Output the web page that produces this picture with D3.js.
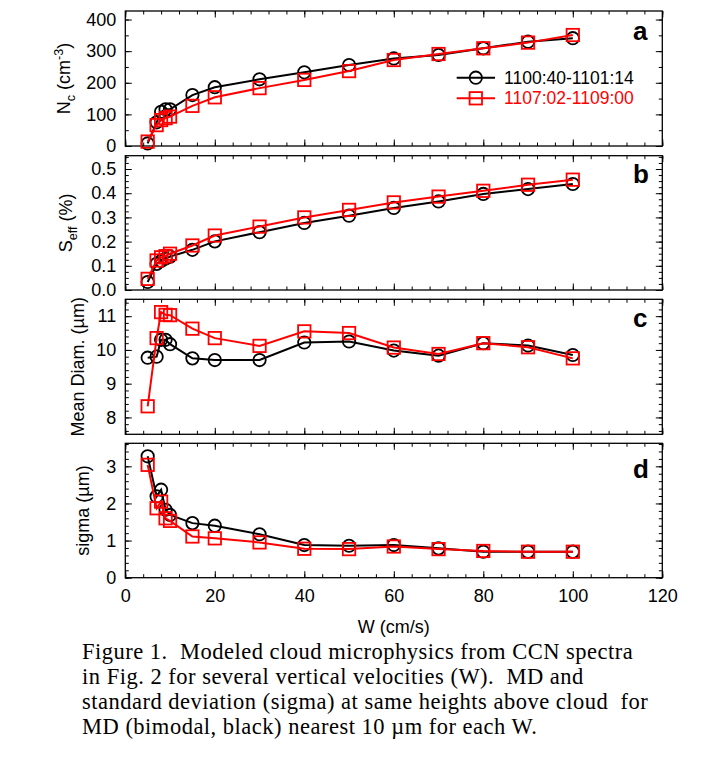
<!DOCTYPE html>
<html>
<head>
<meta charset="utf-8">
<script src="https://cdn.jsdelivr.net/npm/d3@7/dist/d3.min.js"></script>
<style>
  body { margin: 0; background: #fff; }
  svg { display: block; }
</style>
</head>
<body>
<div id="chart"></div>
<script>
// vertical velocity W (cm/s), shared by every panel
const wValues = [5, 7, 8, 9, 10, 15, 20, 30, 40, 50, 60, 70, 80, 90, 100];

// black = 1100:40-1101:14, red = 1107:02-1109:00
const ncBlack = [8, 75, 108, 116, 116, 161, 186, 211, 233, 256, 277, 288, 309, 330, 341];
const ncRed = [14, 66, 82, 88, 93, 127, 154, 183, 209, 237, 272, 291, 309, 327, 351];

const seffBlack = [0.033, 0.108, 0.12, 0.13, 0.138, 0.166, 0.201, 0.239, 0.277, 0.307, 0.339, 0.366, 0.397, 0.417, 0.438];
const seffRed = [0.046, 0.122, 0.135, 0.14, 0.15, 0.184, 0.225, 0.262, 0.30, 0.331, 0.362, 0.386, 0.41, 0.435, 0.456];

const mdBlack = [9.77, 9.8, 10.3, 10.3, 10.17, 9.75, 9.70, 9.70, 10.22, 10.25, 9.98, 9.83, 10.2, 10.13, 9.85];
const mdRed = [8.33, 10.35, 11.12, 11.04, 11.03, 10.63, 10.35, 10.12, 10.55, 10.5, 10.07, 9.88, 10.2, 10.08, 9.75];

const sigmaBlack = [3.27, 2.19, 2.37, 1.83, 1.69, 1.47, 1.40, 1.17, 0.88, 0.86, 0.88, 0.79, 0.70, 0.70, 0.70];
const sigmaRed = [3.04, 1.87, 2.05, 1.60, 1.53, 1.11, 1.06, 0.95, 0.78, 0.77, 0.84, 0.77, 0.72, 0.70, 0.70];

const seriesLabels = ['1100:40-1101:14', '1107:02-1109:00'];

// tick labels
const xTicks = [0, 20, 40, 60, 80, 100, 120];
const ncTicks = [0, 100, 200, 300, 400];
const seffTicks = [0.0, 0.1, 0.2, 0.3, 0.4, 0.5];
const mdTicks = [8, 9, 10, 11];
const sigmaTicks = [0, 1, 2, 3];

const captionLines = [
  'Figure 1.  Modeled cloud microphysics from CCN spectra',
  'in Fig. 2 for several vertical velocities (W).  MD and',
  'standard deviation (sigma) at same heights above cloud  for',
  'MD (bimodal, black) nearest 10 \u00b5m for each W.'
];

const width = 720, height = 768;
const left = 125.3, right = 662.3;
const sans = '"Liberation Sans", Arial, sans-serif';

const svg = d3.select('#chart').append('svg')
  .attr('width', width)
  .attr('height', height)
  .style('font-family', sans);

const x = d3.scaleLinear().domain([0, 120]).range([left, right]);
const xMinor = d3.range(0, 121, 4);

const panels = [
  { letter: 'a', top: 11, bottom: 146, domain: [0, 427], ticks: ncTicks, minor: d3.range(0, 401, 50),
    format: d3.format('d'), black: ncBlack, red: ncRed, letterDy: 28.5, titleX: 70, legend: true },
  { letter: 'b', top: 155.7, bottom: 290, domain: [0, 0.555], ticks: seffTicks, minor: d3.range(0, 0.551, 0.025),
    format: d3.format('.1f'), black: seffBlack, red: seffRed, letterDy: 27.6, titleX: 72 },
  { letter: 'c', top: 299.3, bottom: 434.3, domain: [7.5, 11.5], ticks: mdTicks, minor: d3.range(7.6, 11.5, 0.2),
    format: d3.format('d'), black: mdBlack, red: mdRed, letterDy: 28, titleX: 84 },
  { letter: 'd', top: 443.3, bottom: 577.7, domain: [0, 3.62], ticks: sigmaTicks, minor: d3.range(0, 3.61, 0.2),
    format: d3.format('d'), black: sigmaBlack, red: sigmaRed, letterDy: 35, titleX: 88.5, xLabels: true }
];

function styleAxis(sel) {
  sel.select('.domain').remove();
  sel.selectAll('line').attr('stroke', '#000').attr('stroke-width', 1);
  sel.selectAll('text').attr('fill', '#000').style('font-family', sans).style('font-size', '18px');
}

function renderPanel(p) {
  const y = d3.scaleLinear().domain(p.domain).range([p.bottom, p.top]);
  const g = svg.append('g').attr('class', 'panel-' + p.letter);

  // inward ticks on all four sides, minor first
  const noLabel = () => '';
  g.append('g').attr('transform', `translate(${left},0)`)
    .call(d3.axisLeft(y).tickValues(p.minor).tickSize(-3.5).tickFormat(noLabel)).call(styleAxis);
  g.append('g').attr('transform', `translate(${left},0)`)
    .call(d3.axisLeft(y).tickValues(p.ticks).tickSize(-6.5).tickPadding(9).tickFormat(p.format)).call(styleAxis);
  g.append('g').attr('transform', `translate(${right},0)`)
    .call(d3.axisRight(y).tickValues(p.minor).tickSize(-3.5).tickFormat(noLabel)).call(styleAxis);
  g.append('g').attr('transform', `translate(${right},0)`)
    .call(d3.axisRight(y).tickValues(p.ticks).tickSize(-6.5).tickFormat(noLabel)).call(styleAxis);

  g.append('g').attr('transform', `translate(0,${p.top})`)
    .call(d3.axisTop(x).tickValues(xMinor).tickSize(-3.5).tickFormat(noLabel)).call(styleAxis);
  g.append('g').attr('transform', `translate(0,${p.top})`)
    .call(d3.axisTop(x).tickValues(xTicks).tickSize(-6.5).tickFormat(noLabel)).call(styleAxis);
  g.append('g').attr('transform', `translate(0,${p.bottom})`)
    .call(d3.axisBottom(x).tickValues(xMinor).tickSize(-3.5).tickFormat(noLabel)).call(styleAxis);
  g.append('g').attr('transform', `translate(0,${p.bottom})`)
    .call(d3.axisBottom(x).tickValues(xTicks).tickSize(-6.5).tickPadding(12)
      .tickFormat(p.xLabels ? d3.format('d') : noLabel)).call(styleAxis);

  g.append('rect')
    .attr('x', left).attr('y', p.top)
    .attr('width', right - left).attr('height', p.bottom - p.top)
    .attr('fill', 'none').attr('stroke', '#000').attr('stroke-width', 1.3);

  const line = d3.line().x((d, i) => x(wValues[i])).y(d => y(d));

  // black series: circles
  g.append('path').datum(p.black).attr('d', line)
    .attr('fill', 'none').attr('stroke', '#000').attr('stroke-width', 2);
  g.append('g').selectAll('circle')
    .data(p.black)
    .join('circle')
    .attr('cx', (d, i) => x(wValues[i]))
    .attr('cy', d => y(d))
    .attr('r', 6.2)
    .attr('fill', 'none').attr('stroke', '#000').attr('stroke-width', 1.8);

  // red series: squares
  g.append('path').datum(p.red).attr('d', line)
    .attr('fill', 'none').attr('stroke', '#ff0000').attr('stroke-width', 2);
  g.append('g').selectAll('rect')
    .data(p.red)
    .join('rect')
    .attr('x', (d, i) => x(wValues[i]) - 6.2)
    .attr('y', d => y(d) - 6.2)
    .attr('width', 12.4).attr('height', 12.4)
    .attr('fill', 'none').attr('stroke', '#ff0000').attr('stroke-width', 1.8);

  g.append('text')
    .attr('x', 633).attr('y', p.top + p.letterDy)
    .style('font-size', '26px').style('font-weight', 'bold')
    .text(p.letter);

  if (p.legend) renderLegend(g);
}

function renderLegend(g) {
  const colors = ['#000', '#ff0000'];
  seriesLabels.forEach((label, i) => {
    const ly = 77.7 + i * 20.6;
    g.append('line')
      .attr('x1', 456.7).attr('x2', 495).attr('y1', ly).attr('y2', ly)
      .attr('stroke', colors[i]).attr('stroke-width', 2);
    if (i === 0) {
      g.append('circle').attr('cx', 475.8).attr('cy', ly).attr('r', 6.2)
        .attr('fill', 'none').attr('stroke', colors[i]).attr('stroke-width', 1.8);
    } else {
      g.append('rect').attr('x', 475.8 - 6.2).attr('y', ly - 6.2).attr('width', 12.4).attr('height', 12.4)
        .attr('fill', 'none').attr('stroke', colors[i]).attr('stroke-width', 1.8);
    }
    g.append('text')
      .attr('x', 504).attr('y', ly + 5.8)
      .attr('fill', colors[i])
      .style('font-size', '17.5px')
      .text(label);
  });
}

panels.forEach(renderPanel);

// y axis titles, rotated
function yTitle(p, build) {
  const cy = (p.top + p.bottom) / 2;
  const t = svg.append('text')
    .attr('transform', `translate(${p.titleX},${cy}) rotate(-90)`)
    .attr('text-anchor', 'middle')
    .style('font-size', '18px');
  build(t);
}

yTitle(panels[0], t => {
  t.append('tspan').text('N');
  t.append('tspan').attr('dy', 5).style('font-size', '12.5px').text('c');
  t.append('tspan').attr('dy', -5).text(' (cm');
  t.append('tspan').attr('dy', -7).style('font-size', '12.5px').text('-3');
  t.append('tspan').attr('dy', 7).text(')');
});
yTitle(panels[1], t => {
  t.append('tspan').text('S');
  t.append('tspan').attr('dy', 5).style('font-size', '12.5px').text('eff');
  t.append('tspan').attr('dy', -5).text(' (%)');
});
yTitle(panels[2], t => t.text('Mean Diam. (\u00b5m)'));
yTitle(panels[3], t => t.text('sigma (\u00b5m)'));

// x axis title
svg.append('text')
  .attr('x', (left + right) / 2).attr('y', 633)
  .attr('text-anchor', 'middle')
  .style('font-size', '18px')
  .text('W (cm/s)');

// caption
svg.append('g').selectAll('text')
  .data(captionLines)
  .join('text')
  .attr('x', 82)
  .attr('y', (d, i) => 659 + i * 25)
  .style('font-family', '"Liberation Serif", "Times New Roman", serif')
  .style('font-size', '22.5px')
  .style('letter-spacing', '0.5px')
  .style('white-space', 'pre')
  .text(d => d);
</script>
</body>
</html>
